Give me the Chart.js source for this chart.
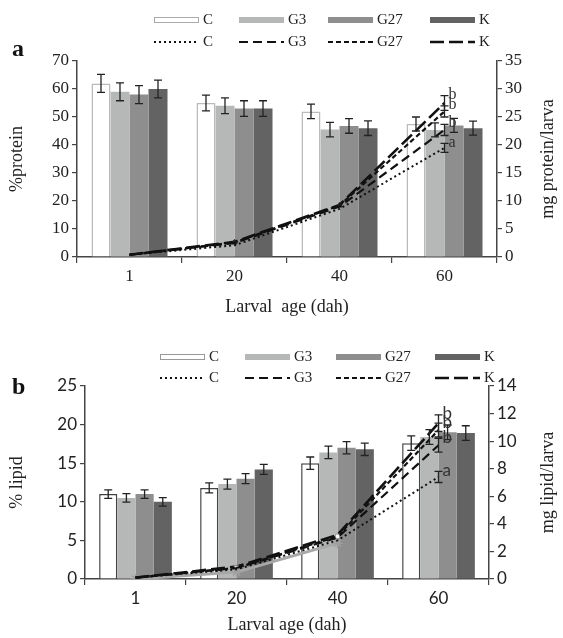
<!DOCTYPE html>
<html>
<head>
<meta charset="utf-8">
<script src="https://cdn.jsdelivr.net/npm/chart.js@4.4.1/dist/chart.umd.min.js"></script>
<style>
  html, body { margin: 0; padding: 0; background: #fff; }
  .panel { position: relative; width: 563px; }
  #panelA { height: 320px; }
  #panelB { height: 318px; }
</style>
</head>
<body>
<div class="panel" id="panelA"><canvas id="chartProtein"></canvas></div>
<div class="panel" id="panelB"><canvas id="chartLipid"></canvas></div>
<script>
const ages = ['1', '20', '40', '60'];
const groups = ['C', 'G3', 'G27', 'K'];

// panel a: %protein (bars, left axis)
const protC = [62, 55, 52, 47.5];
const protG3 = [59, 54, 45.5, 45.4];
const protG27 = [58, 53, 46.8, 47];
const protK = [60, 53, 46, 46];
const protErr = [3.2, 2.8, 2.6, 2.5];

// panel a: mg protein/larva (lines, right axis)
const mgProtC = [0.4, 2.1, 8.6, 19.5];
const mgProtG3 = [0.4, 2.5, 9.0, 22.7];
const mgProtG27 = [0.4, 2.6, 9.2, 26];
const mgProtK = [0.4, 2.7, 9.3, 27.5];
const mgProtErrC = [null, null, null, 0.8];
const mgProtErrG3 = [null, null, null, 1.0];
const mgProtErrG27 = [null, null, null, 1.0];
const mgProtErrK = [null, null, null, 1.3];
const protLetters = ['a', 'b', 'b', 'b'];

// panel b: % lipid (bars, left axis)
const lipC = [11, 11.8, 15, 17.6];
const lipG3 = [10.5, 12.3, 16.4, 18.4];
const lipG27 = [11, 13, 17, 19];
const lipK = [10, 14.2, 16.8, 18.9];
const lipErr = [0.55, 0.65, 0.8, 0.95];

// panel b: mg lipid/larva (lines, right axis)
const mgLipC = [0.1, 0.7, 2.8, 7.4];
const mgLipG3 = [0.1, 0.8, 3.0, 9.7];
const mgLipG27 = [0.1, 0.8, 3.1, 10.8];
const mgLipK = [0.1, 0.9, 3.2, 11.3];
const mgLipGrey = [0, 0.5, 2.6, null];
const mgLipErrC = [null, null, null, 0.4];
const mgLipErrG3 = [null, null, null, 0.5];
const mgLipErrG27 = [null, null, null, 0.5];
const mgLipErrK = [null, null, null, 0.6];
const lipLetters = ['a', 'b', 'b', 'b'];

// y axis ticks
const protTicks = { min: 0, max: 70, step: 10 };
const mgProtTicks = { min: 0, max: 35, step: 5 };
const lipTicks = { min: 0, max: 25, step: 5 };
const mgLipTicks = { min: 0, max: 14, step: 2 };

const SERIF = "'Liberation Serif', 'Times New Roman', serif";
const SANS = "Lato, 'Open Sans', sans-serif";
const barFills = ['#ffffff', '#b6b8b8', '#8e8e8e', '#636363'];
const lineDashes = [[2, 3], [9, 5], [5, 3], [14, 5]];
const lineWidths = [2, 2.2, 2.2, 2.6];

Chart.defaults.font.family = SERIF;
Chart.defaults.color = '#222';

// error bars + significance letters
const errorBars = {
    id: 'errorBars',
    afterDatasetsDraw(chart, args, opts) {
        const ctx = chart.ctx;
        ctx.save();
        ctx.strokeStyle = '#222';
        ctx.fillStyle = '#333';
        ctx.lineWidth = 1.3;
        ctx.font = opts.letterFont;
        ctx.textBaseline = 'middle';
        chart.data.datasets.forEach((ds, i) => {
            const errs = opts.errors[i];
            if (!errs) return;
            const meta = chart.getDatasetMeta(i);
            const scale = chart.scales[meta.yAxisID];
            meta.data.forEach((el, j) => {
                const e = errs[j];
                if (e == null) return;
                const v = ds.data[j];
                const x = el.x;
                const yTop = scale.getPixelForValue(v + e);
                const yBot = scale.getPixelForValue(v - e);
                ctx.beginPath();
                ctx.moveTo(x, yTop); ctx.lineTo(x, yBot);
                ctx.moveTo(x - 4, yTop); ctx.lineTo(x + 4, yTop);
                ctx.moveTo(x - 4, yBot); ctx.lineTo(x + 4, yBot);
                ctx.stroke();
                const letters = opts.letters && opts.letters[i];
                if (letters && j === ds.data.length - 1) {
                    ctx.fillText(letters, x + 4, yTop - 1);
                }
            });
        });
        ctx.restore();
    }
};

// legend in two rows (bars, then lines), right axis title, panel tag
const panelExtras = {
    id: 'panelExtras',
    afterDraw(chart, args, opts) {
        const ctx = chart.ctx;
        const sets = chart.data.datasets;
        ctx.save();
        ctx.font = opts.legendFont;
        ctx.textBaseline = 'middle';
        ctx.textAlign = 'left';
        for (let k = 0; k < 4; k++) {
            const x = opts.legendX[k];
            const bar = sets[k];
            let y = opts.legendRows[0];
            ctx.fillStyle = bar.backgroundColor;
            ctx.fillRect(x, y - 3, opts.swatch, 6);
            if (bar.borderWidth) {
                ctx.strokeStyle = opts.legendBorder;
                ctx.lineWidth = 1;
                ctx.strokeRect(x + 0.5, y - 2.5, opts.swatch - 1, 5);
            }
            ctx.fillStyle = '#222';
            ctx.fillText(bar.label, x + opts.swatch + 4, y);

            const line = sets[k + 4];
            y = opts.legendRows[1];
            ctx.strokeStyle = line.borderColor;
            ctx.lineWidth = line.borderWidth;
            ctx.setLineDash(line.borderDash);
            ctx.beginPath();
            ctx.moveTo(x, y); ctx.lineTo(x + opts.swatch, y);
            ctx.stroke();
            ctx.setLineDash([]);
            ctx.fillText(line.label, x + opts.swatch + 4, y);
        }

        const area = chart.chartArea;
        ctx.font = opts.titleFont;
        ctx.textAlign = 'center';
        ctx.translate(opts.rightTitleX, (area.top + area.bottom) / 2);
        ctx.rotate(-Math.PI / 2);
        ctx.fillText(opts.rightTitle, 0, 0);
        ctx.restore();

        ctx.save();
        ctx.font = "bold 24px " + SERIF;
        ctx.fillStyle = '#111';
        ctx.textBaseline = 'middle';
        ctx.fillText(opts.tag, opts.tagPos[0], opts.tagPos[1]);
        ctx.restore();
    }
};

function makeDatasets(bars, lines, cBorder, marker) {
    const sets = [];
    bars.forEach((data, k) => {
        sets.push({
            type: 'bar',
            label: groups[k],
            data: data,
            yAxisID: 'y',
            backgroundColor: barFills[k],
            borderColor: k === 0 ? cBorder : barFills[k],
            borderWidth: k === 0 ? 1.5 : 0,
            borderSkipped: 'bottom',
            order: 3
        });
    });
    lines.forEach((data, k) => {
        const withMarker = k === 2;
        sets.push({
            type: 'line',
            label: groups[k],
            data: data,
            yAxisID: 'y1',
            borderColor: '#111',
            borderWidth: lineWidths[k],
            borderDash: lineDashes[k],
            pointRadius: withMarker ? [0, 3, 3, 0] : 0,
            pointStyle: marker.style,
            pointBackgroundColor: marker.fill,
            pointBorderColor: marker.edge,
            pointBorderWidth: 1,
            fill: false,
            order: 1
        });
    });
    return sets;
}

function makeScales(cfg) {
    return {
        x: {
            offset: true,
            grid: { offset: true, drawOnChartArea: false, color: '#444', tickLength: 6, lineWidth: 1.2 },
            border: { color: '#444', width: 1.5 },
            ticks: { font: { family: cfg.tickFamily, size: 17 }, padding: 3, color: '#222' },
            title: { display: true, text: cfg.xTitle, font: { size: 18 }, padding: { top: 0, bottom: 2 }, color: '#222' },
            afterFit: (axis) => { axis.height = cfg.xHeight; }
        },
        y: {
            position: 'left',
            min: cfg.left.min, max: cfg.left.max,
            grid: { drawOnChartArea: false, color: '#444', tickLength: 5, lineWidth: 1.2 },
            border: { color: '#444', width: 1.5 },
            ticks: { stepSize: cfg.left.step, font: { family: cfg.tickFamily, size: 17 }, padding: 3, color: '#222' },
            title: { display: true, text: cfg.yTitle, font: { size: 18 }, padding: { top: 6, bottom: 0 }, color: '#222' },
            afterFit: (axis) => { axis.width = cfg.leftWidth; }
        },
        y1: {
            position: 'right',
            min: cfg.right.min, max: cfg.right.max,
            grid: { drawOnChartArea: false, color: '#444', tickLength: 5, lineWidth: 1.2 },
            border: { color: '#444', width: 1.5 },
            ticks: { stepSize: cfg.right.step, font: { family: cfg.tickFamily, size: 17 }, padding: 3, color: '#222' },
            afterFit: (axis) => { axis.width = cfg.rightWidth; }
        }
    };
}

document.addEventListener('DOMContentLoaded', function () {
    const protSets = makeDatasets([protC, protG3, protG27, protK],
        [mgProtC, mgProtG3, mgProtG27, mgProtK], '#bbbbbb',
        { style: 'triangle', fill: '#222', edge: '#222' });

    new Chart(document.getElementById('chartProtein'), {
        data: { labels: ages, datasets: protSets },
        options: {
            responsive: true,
            maintainAspectRatio: false,
            animation: false,
            layout: { padding: { top: 61, left: 0, right: 0, bottom: 0 } },
            datasets: { bar: { categoryPercentage: 0.724, barPercentage: 1.0 } },
            plugins: {
                legend: { display: false },
                tooltip: { enabled: false },
                errorBars: {
                    errors: [protErr, protErr, protErr, protErr,
                        mgProtErrC, mgProtErrG3, mgProtErrG27, mgProtErrK],
                    letters: [null, null, null, null].concat(protLetters),
                    letterFont: '16px ' + SERIF
                },
                panelExtras: {
                    legendFont: '15px ' + SERIF,
                    titleFont: '18px ' + SERIF,
                    legendX: [154, 239, 328, 430],
                    legendRows: [20, 42],
                    legendBorder: '#aaaaaa',
                    swatch: 45,
                    rightTitle: 'mg protein/larva',
                    rightTitleX: 548,
                    tag: 'a',
                    tagPos: [12, 50]
                }
            },
            scales: makeScales({
                tickFamily: SERIF,
                xTitle: 'Larval  age (dah)',
                yTitle: '%protein',
                left: protTicks, right: mgProtTicks,
                xHeight: 63, leftWidth: 77, rightWidth: 66
            })
        },
        plugins: [errorBars, panelExtras]
    });

    const lipSets = makeDatasets([lipC, lipG3, lipG27, lipK],
        [mgLipC, mgLipG3, mgLipG27, mgLipK], '#444444',
        { style: 'rect', fill: '#ffffff', edge: '#999999' });
    lipSets.push({
        type: 'line',
        label: '',
        data: mgLipGrey,
        yAxisID: 'y1',
        borderColor: '#a8a8a8',
        borderWidth: 3,
        pointStyle: 'star',
        pointRadius: 5,
        pointBorderColor: '#a0a0a0',
        pointBorderWidth: 1.5,
        fill: false,
        order: 2
    });

    new Chart(document.getElementById('chartLipid'), {
        data: { labels: ages, datasets: lipSets },
        options: {
            responsive: true,
            maintainAspectRatio: false,
            animation: false,
            layout: { padding: { top: 66, left: 0, right: 0, bottom: 0 } },
            datasets: { bar: { categoryPercentage: 0.72, barPercentage: 1.0 } },
            plugins: {
                legend: { display: false },
                tooltip: { enabled: false },
                errorBars: {
                    errors: [lipErr, lipErr, lipErr, lipErr,
                        mgLipErrC, mgLipErrG3, mgLipErrG27, mgLipErrK],
                    letters: [null, null, null, null].concat(lipLetters),
                    letterFont: '17px ' + SANS
                },
                panelExtras: {
                    legendFont: '15px ' + SERIF,
                    titleFont: '18px ' + SERIF,
                    legendX: [160, 245, 336, 435],
                    legendRows: [37, 58],
                    legendBorder: '#999999',
                    swatch: 45,
                    rightTitle: 'mg lipid/larva',
                    rightTitleX: 548,
                    tag: 'b',
                    tagPos: [12, 68]
                }
            },
            scales: makeScales({
                tickFamily: SANS,
                xTitle: 'Larval age (dah)',
                yTitle: '% lipid',
                left: lipTicks, right: mgLipTicks,
                xHeight: 59, leftWidth: 85, rightWidth: 74
            })
        },
        plugins: [errorBars, panelExtras]
    });
});
</script>
</body>
</html>
